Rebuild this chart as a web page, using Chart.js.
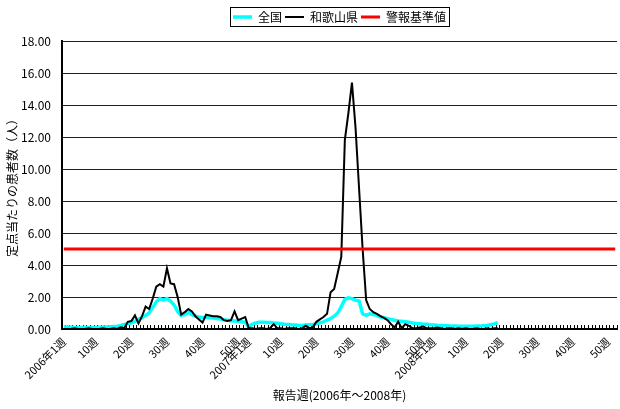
<!DOCTYPE html>
<html>
<head>
<meta charset="utf-8">
<script src="https://cdn.jsdelivr.net/npm/chart.js@4.4.0/dist/chart.umd.min.js"></script>
<style>
  html, body { margin: 0; padding: 0; background: #fff; }
</style>
</head>
<body>
<canvas id="myChart" width="620" height="409"></canvas>
<script>
// 年と週
var years = ['2006', '2007', '2008'];
var weeksPerYear = 52;
var shownWeeks = [1, 10, 20, 30, 40, 50];

// 全国 (定点当たり)
var zenkoku2006 = [0.12, 0.12, 0.11, 0.10, 0.10, 0.10, 0.10, 0.10, 0.10, 0.10,
                   0.11, 0.12, 0.13, 0.14, 0.16, 0.18, 0.22, 0.28, 0.33, 0.38,
                   0.48, 0.60, 0.72, 0.85, 1.00, 1.35, 1.70, 1.90, 1.80, 1.90,
                   1.75, 1.50, 1.10, 0.85, 0.90, 1.05, 0.90, 0.80, 0.75, 0.72,
                   0.72, 0.70, 0.68, 0.65, 0.62, 0.58, 0.55, 0.52, 0.50, 0.48,
                   0.45, 0.42];
var zenkoku2007 = [0.15, 0.30, 0.38, 0.42, 0.42, 0.40, 0.40, 0.38, 0.36, 0.33,
                   0.30, 0.28, 0.26, 0.25, 0.23, 0.22, 0.25, 0.27, 0.28, 0.32,
                   0.38, 0.45, 0.55, 0.65, 0.80, 1.00, 1.40, 1.85, 1.95, 1.90,
                   1.80, 1.75, 0.95, 0.85, 0.95, 0.90, 0.85, 0.75, 0.70, 0.65,
                   0.60, 0.55, 0.50, 0.48, 0.45, 0.42, 0.38, 0.35, 0.33, 0.30,
                   0.30, 0.27];
var zenkoku2008 = [0.25, 0.23, 0.22, 0.20, 0.20, 0.18, 0.18, 0.17, 0.17, 0.17,
                   0.17, 0.17, 0.18, 0.18, 0.20, 0.22, 0.27, 0.32, 0.40];

// 和歌山県
var wakayama2006 = [0.00, 0.00, 0.00, 0.05, 0.00, 0.00, 0.00, 0.05, 0.00, 0.00,
                    0.00, 0.05, 0.00, 0.00, 0.05, 0.00, 0.10, 0.05, 0.45, 0.50,
                    0.85, 0.35, 0.80, 1.40, 1.25, 1.90, 2.65, 2.80, 2.65, 3.80,
                    2.85, 2.80, 2.00, 0.90, 1.05, 1.25, 1.10, 0.80, 0.60, 0.40,
                    0.90, 0.85, 0.80, 0.80, 0.75, 0.55, 0.50, 0.55, 1.10, 0.55,
                    0.65, 0.75];
var wakayama2007 = [0.05, 0.05, 0.00, 0.05, 0.05, 0.00, 0.05, 0.30, 0.05, 0.05,
                    0.00, 0.05, 0.05, 0.05, 0.00, 0.05, 0.20, 0.05, 0.10, 0.45,
                    0.60, 0.75, 0.95, 2.30, 2.50, 3.50, 4.50, 11.80, 13.50, 15.40,
                    12.60, 8.80, 5.00, 1.80, 1.25, 1.05, 0.95, 0.80, 0.70, 0.55,
                    0.30, 0.10, 0.45, 0.05, 0.30, 0.20, 0.05, 0.05, 0.10, 0.15,
                    0.05, 0.05];
var wakayama2008 = [0.05, 0.10, 0.05, 0.00, 0.05, 0.05, 0.00, 0.05, 0.00, 0.05,
                    0.00, 0.00, 0.05, 0.00, 0.00, 0.05, 0.00, 0.05, 0.05];

// 警報基準値
var alertLevel = 5.0;

var categories = [];
years.forEach(function (y) {
  for (var w = 1; w <= weeksPerYear; w++) {
    categories.push(w === 1 ? y + '年1週' : w + '週');
  }
});
var zenkoku = zenkoku2006.concat(zenkoku2007, zenkoku2008);
var wakayama = wakayama2006.concat(wakayama2007, wakayama2008);
var keihou = categories.map(function () { return alertLevel; });

var numFont = "'Liberation Sans Narrow', 'Noto Sans CJK JP', sans-serif";
var jpFont = "'Noto Sans CJK JP', sans-serif";

// 凡例の枠と下の余白
var legendBox = {
  id: 'legendBox',
  beforeLayout: function (chart) {
    var lg = chart.legend;
    if (lg && !lg._fitPatched) {
      var fit = lg.fit;
      lg.fit = function () { fit.call(this); this.height = 33; };
      lg._fitPatched = true;
    }
  },
  afterDraw: function (chart) {
    var boxes = chart.legend.legendHitBoxes;
    if (!boxes || !boxes.length) return;
    var l = boxes[0].left, t = boxes[0].top, r = l, b = t;
    boxes.forEach(function (h) {
      l = Math.min(l, h.left); t = Math.min(t, h.top);
      r = Math.max(r, h.left + h.width); b = Math.max(b, h.top + h.height);
    });
    var ctx = chart.ctx;
    ctx.save();
    ctx.strokeStyle = '#000';
    ctx.lineWidth = 1;
    ctx.strokeRect(Math.round(l - 3) + 0.5, Math.round(t - 4) + 0.5, Math.round(r - l + 6), Math.round(b - t + 7));
    ctx.restore();
  }
};

var ctx = document.getElementById('myChart').getContext('2d');
var myChart = new Chart(ctx, {
  type: 'line',
  data: {
    labels: categories,
    datasets: [{
      label: '全国',
      data: zenkoku,
      borderColor: '#00FFFF',
      backgroundColor: '#00FFFF',
      borderWidth: 3.5,
      pointRadius: 0,
      order: 2
    }, {
      label: '和歌山県',
      data: wakayama,
      borderColor: '#000000',
      backgroundColor: '#000000',
      borderWidth: 2,
      pointRadius: 0,
      order: 1
    }, {
      label: '警報基準値',
      data: keihou,
      borderColor: '#FF0000',
      backgroundColor: '#FF0000',
      borderWidth: 3,
      pointRadius: 0,
      order: 0
    }]
  },
  options: {
    responsive: false,
    animation: false,
    layout: { padding: { top: 8, right: 3, left: 0, bottom: 0 } },
    plugins: {
      tooltip: { enabled: false },
      legend: {
        position: 'top',
        fullSize: false,
        labels: {
          color: '#000',
          font: { family: jpFont, size: 12 },
          usePointStyle: true,
          pointStyle: 'line',
          pointStyleWidth: 19,
          padding: 3,
          sort: function (a, b) { return a.datasetIndex - b.datasetIndex; }
        }
      }
    },
    scales: {
      x: {
        offset: true,
        grid: {
          offset: true,
          drawOnChartArea: false,
          drawTicks: true,
          tickLength: -4,
          tickColor: '#000',
          tickWidth: 1
        },
        border: { color: '#000', width: 2 },
        ticks: {
          autoSkip: false,
          minRotation: 45,
          maxRotation: 45,
          padding: 10,
          color: '#000',
          font: { family: numFont, size: 11 },
          callback: function (val, idx) {
            var w = idx % weeksPerYear + 1;
            return shownWeeks.indexOf(w) >= 0 ? categories[idx] : '';
          }
        },
        title: {
          display: true,
          text: '報告週(2006年～2008年)',
          color: '#000',
          font: { family: jpFont, size: 12 },
          padding: { top: 0, bottom: 6 }
        },
        afterFit: function (s) {
          s.height = 80;
          s.paddingLeft = 0;
          s.paddingRight = 0;
        }
      },
      y: {
        min: 0,
        max: 18,
        grid: { color: '#222', lineWidth: 1, drawTicks: false },
        border: { color: '#000', width: 2 },
        ticks: {
          stepSize: 2,
          padding: 11,
          color: '#000',
          font: { family: numFont, size: 12 },
          callback: function (v) { return v.toFixed(2); }
        },
        title: {
          display: true,
          text: '定点当たりの患者数（人）',
          color: '#000',
          font: { family: jpFont, size: 12 },
          padding: { top: 5, bottom: 0 }
        },
        afterFit: function (s) { s.width = 62; }
      }
    }
  },
  plugins: [legendBox]
});
</script>
</body>
</html>
